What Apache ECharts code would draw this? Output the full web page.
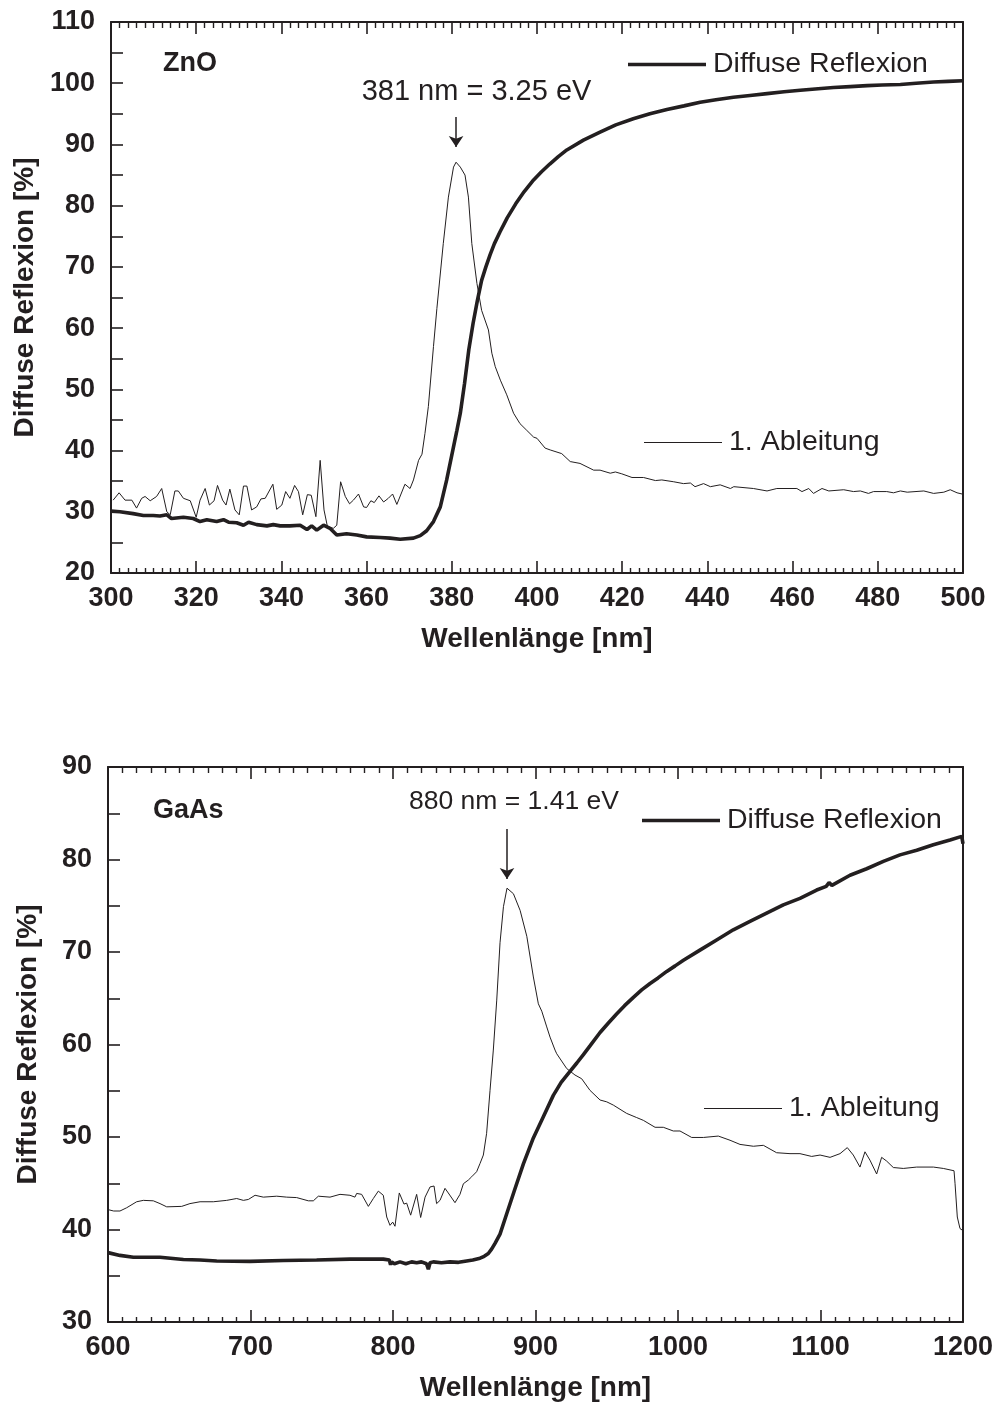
<!DOCTYPE html>
<html>
<head>
<meta charset="utf-8">
<script src="https://cdn.jsdelivr.net/npm/echarts@6/dist/echarts.min.js"></script>
<style>
  html, body { margin: 0; padding: 0; background: #ffffff; }
  #chart { width: 998px; height: 1415px; }
</style>
</head>
<body>
<div id="chart"></div>
<script>
// ---- ZnO: diffuse reflexion and its first derivative, wavelength [nm] vs. value ----
const znoReflexion = [
  [300,30.1],[302.1,30.0],[305.2,29.7],[307.6,29.4],[309.9,29.4],[311.5,29.3],[313.1,29.5],[314.2,28.9],
  [317.0,29.1],[319.3,28.9],[320.9,28.4],[322.5,28.7],[324.8,28.4],[326.4,28.7],[327.6,28.3],[329.5,28.2],
  [331.1,27.8],[332.3,28.3],[334.2,27.9],[336.6,27.7],[338.1,27.9],[339.7,27.7],[342.0,27.7],[344.4,27.8],
  [346.0,27.1],[347.1,27.7],[348.3,27.0],[349.9,27.8],[351.4,27.3],[353.0,26.2],[355.3,26.4],[357.7,26.2],
  [360.0,25.9],[363.2,25.8],[365.5,25.7],[367.9,25.5],[371.0,25.7],[372.6,26.1],[374.1,26.9],[375.7,28.4],
  [377.3,30.8],[378.8,35.2],[380.4,40.6],[381.2,43.3],[382.0,46.1],[383.0,51.0],[384.0,56.5],[385.0,60.8],
  [386.0,64.5],[387.0,67.8],[388.0,70.0],[389.0,72.0],[390.0,73.8],[391.3,75.7],[393.0,78.0],[395.0,80.3],
  [397.0,82.3],[399.2,84.2],[401.0,85.5],[403.0,86.8],[405.0,88.0],[407.0,89.1],[410.9,90.7],[414.8,92.0],
  [418.5,93.2],[422.6,94.2],[426.5,95.0],[430.5,95.7],[434.5,96.3],[438.3,96.9],[442.0,97.3],[446.1,97.7],
  [450.0,98.0],[454.0,98.3],[458.0,98.6],[461.8,98.85],[466.0,99.1],[469.6,99.3],[473.5,99.45],[477.5,99.6],
  [481.0,99.7],[485.3,99.8],[489.0,100.0],[493.1,100.2],[496.5,100.3],[500.0,100.4]
];
const znoDerivative = [
  [300.5,31.9],[301.9,33.1],[303.3,31.9],[304.9,31.9],[306.0,30.6],[307.2,32.2],[308.0,32.5],[309.2,31.8],
  [310.7,32.5],[311.9,33.8],[313.1,30.0],[313.9,29.5],[315.0,33.4],[315.8,33.4],[317.0,32.2],[318.6,31.8],
  [320.0,29.1],[320.9,31.9],[322.1,33.8],[323.1,31.1],[324.2,31.8],[325.0,34.3],[326.2,31.9],[327.0,31.1],
  [327.9,33.7],[329.1,30.3],[330.1,29.5],[331.1,34.2],[331.9,34.2],[333.0,30.3],[334.2,30.8],[335.2,32.1],
  [336.2,32.2],[338.0,34.5],[338.9,30.4],[340.1,31.1],[341.0,33.3],[342.0,32.2],[343.1,34.3],[344.0,33.3],
  [345.0,29.5],[346.1,32.8],[347.0,32.7],[348.1,29.2],[349.1,38.4],[350.0,30.3],[350.8,27.6],[352.2,27.3],
  [353.0,27.8],[353.9,34.9],[355.0,32.5],[356.0,31.3],[356.9,31.9],[358.1,32.9],[359.3,30.8],[360.0,30.7],
  [361.0,31.8],[361.8,31.5],[362.9,32.6],[364.0,31.6],[365.1,32.2],[366.1,32.9],[367.1,31.2],[369.0,34.5],
  [370.2,33.8],[371.0,35.2],[372.2,38.4],[373.0,39.4],[373.7,42.8],[374.5,47.2],[375.7,57.0],[376.5,63.2],
  [378.0,73.8],[379.2,81.4],[380.4,86.3],[381.0,87.1],[382.0,86.3],[383.1,85.0],[383.9,81.4],[384.7,73.8],
  [385.9,67.3],[387.0,62.9],[388.6,59.7],[389.4,55.9],[390.2,53.7],[391.4,51.5],[392.9,49.1],[394.5,46.1],
  [396.0,44.4],[397.6,43.3],[399.2,42.2],[400.0,42.0],[401.9,40.4],[403.1,40.1],[405.8,39.5],[407.8,38.2],
  [410.1,37.9],[413.3,36.8],[414.8,36.8],[417.2,36.3],[418.4,36.5],[419.9,36.2],[422.3,35.6],[425.0,35.6],
  [427.8,35.1],[429.3,35.2],[432.1,34.9],[434.4,34.6],[436.0,34.7],[437.1,34.1],[439.1,34.6],[440.7,34.1],
  [443.0,34.4],[445.4,33.8],[446.2,34.1],[450.8,33.8],[454.0,33.4],[456.3,33.8],[461.0,33.8],[462.2,33.3],
  [463.8,33.8],[464.9,33.0],[466.9,33.8],[468.5,33.4],[472.0,33.6],[474.3,33.3],[475.9,33.4],[477.8,33.0],
  [479.0,33.3],[482.1,33.3],[483.7,33.1],[485.3,33.4],[486.9,33.2],[490.8,33.4],[493.1,33.0],[495.5,33.2],
  [497.0,33.6],[498.6,33.1],[499.8,32.9]
];

// ---- GaAs: diffuse reflexion and its first derivative ----
const gaasReflexion = [
  [600,37.5],[608.4,37.2],[617.8,37.0],[636.5,37.0],[652.9,36.75],[664.6,36.7],[676.3,36.6],[699.6,36.55],
  [723,36.65],[746.4,36.7],[769.8,36.8],[781.5,36.8],[793.2,36.8],[797.4,36.7],[798.3,36.2],[799.1,36.5],
  [801,36.3],[804.9,36.5],[809,36.3],[813,36.5],[816.6,36.4],[820,36.5],[823.5,36.3],[824.8,35.7],[826,36.4],
  [828.3,36.5],[834,36.4],[840,36.5],[846,36.45],[851.7,36.6],[856,36.7],[861.1,36.9],[864,37.1],[866.9,37.4],
  [869.3,37.9],[871.6,38.5],[875.1,39.5],[879.8,41.7],[885.6,44.4],[891.5,47.1],[898.5,49.9],[905.5,52.2],
  [912.5,54.5],[918,55.9],[924.2,57.1],[929,58.0],[933.6,58.9],[938.5,59.9],[945.3,61.3],[951,62.3],
  [956.9,63.3],[962.5,64.2],[968.7,65.1],[974.5,65.9],[980.4,66.6],[986,67.2],[992.1,67.9],[998,68.5],
  [1003.8,69.1],[1015.4,70.2],[1027.1,71.3],[1038.8,72.4],[1050.5,73.3],[1062.2,74.2],[1073.9,75.1],
  [1085.6,75.8],[1097.3,76.7],[1104,77.1],[1106,77.5],[1108,77.2],[1120.7,78.3],[1132.4,79.0],[1144.1,79.8],
  [1155.8,80.5],[1167.5,81.0],[1179.2,81.6],[1190.9,82.1],[1199.1,82.5],[1200,81.7]
];
const gaasDerivative = [
  [600,42.15],[604,42.0],[608.4,42.0],[613.1,42.35],[620.1,43.0],[624.8,43.15],[631.8,43.1],[636.5,42.8],
  [641.2,42.45],[651.7,42.5],[657.5,42.8],[664.6,43.0],[673.9,43.0],[683.3,43.15],[690.3,43.35],[695,43.15],
  [698.5,43.25],[703.2,43.7],[709,43.5],[718.4,43.6],[725.4,43.5],[732.4,43.45],[740.6,43.1],[744.1,43.1],
  [747.6,43.6],[755.8,43.5],[762.8,43.8],[769.8,43.7],[773.3,43.5],[774.5,43.9],[778,43.8],[782.7,42.5],
  [786.2,43.35],[789.7,44.15],[793.2,43.7],[795.6,41.35],[797.9,40.45],[799.8,40.8],[801.4,40.35],[804.4,43.95],
  [807.7,42.75],[809.6,42.85],[812.4,41.55],[816.6,43.8],[819.4,41.3],[822.5,43.5],[826.0,44.6],[828.8,44.7],
  [830.6,42.8],[833.0,43.15],[836.5,44.45],[838.8,43.95],[843.5,42.9],[847.0,43.8],[849.4,44.95],[852.9,45.35],
  [855.2,45.7],[858.7,46.25],[861.1,47.15],[863.4,48.05],[865.7,50.4],[868.1,55.05],[870.4,59.4],[872.8,64.8],
  [875.1,71.0],[877.5,74.9],[880.0,76.9],[884.5,76.3],[889.2,74.5],[893.9,71.7],[898.5,67.3],[902.0,64.4],
  [904.4,63.6],[907.9,61.9],[910.2,60.8],[913.7,59.4],[914.9,59.0],[921.9,57.4],[927.7,56.7],[932.4,56.3],
  [938.2,55.05],[945.3,54.0],[950,53.8],[954.6,53.45],[964,52.55],[971,52.1],[975.7,51.8],[983.9,51.05],
  [989.7,51.05],[996.7,50.65],[1001.4,50.65],[1009.6,49.95],[1017.8,49.95],[1028.3,50.1],[1036.5,49.65],
  [1043.5,49.2],[1052.9,49.0],[1059.9,49.1],[1069.2,48.3],[1078.6,48.2],[1085.6,48.2],[1093.8,47.9],
  [1099.7,48.05],[1106.7,47.8],[1113.7,48.2],[1118.8,48.85],[1123.0,48.05],[1127.7,46.75],[1131.2,48.4],
  [1134.7,47.5],[1139.4,46.0],[1142.9,47.8],[1146.4,47.4],[1151.1,46.7],[1158.1,46.6],[1167.5,46.75],
  [1179.2,46.75],[1186.2,46.6],[1193.7,46.35],[1194.4,45.0],[1196.0,41.35],[1197.9,40.1],[1199.8,39.9]
];

// Band-gap markers: peak wavelength, arrow from/to value, text anchor
const znoPeak = { nm: 381, text: '381 nm = 3.25 eV', arrowFrom: 94.5, arrowTo: 89.6, textAt: [385.8, 98.6], size: 29 };
const gaasPeak = { nm: 880, text: '880 nm = 1.41 eV', arrowFrom: 83.3, arrowTo: 77.9, textAt: [884.9, 86.2], size: 26.5 };

const seriesNames = ['Diffuse Reflexion', '1. Ableitung'];
const sampleNames = ['ZnO', 'GaAs'];
const xTitle = 'Wellenlänge [nm]';
const yTitle = 'Diffuse Reflexion [%]';

const INK = '#231f20';
const FONT = '"Liberation Sans", Arial, Helvetica, sans-serif';
const THICK = 3.6;
const THIN = 1;

function bottomX(gridIndex, min, max, interval) {
  return {
    type: 'value', gridIndex, position: 'bottom', min, max, interval,
    name: xTitle, nameLocation: 'middle', nameGap: 52,
    nameTextStyle: { fontFamily: FONT, fontSize: 28, fontWeight: 'bold', color: INK },
    axisLine: { show: true, onZero: false, lineStyle: { color: INK, width: 2 } },
    axisTick: { show: true, inside: true, length: 12, lineStyle: { color: INK, width: 1.6 } },
    minorTick: { show: true, splitNumber: 10, length: 5, lineStyle: { color: INK, width: 1.4 } },
    axisLabel: { fontFamily: FONT, fontSize: 27, fontWeight: 'bold', color: INK, margin: 12,
      formatter: v => String(v) },
    splitLine: { show: false }
  };
}
function topX(gridIndex, min, max, interval) {
  return {
    type: 'value', gridIndex, position: 'top', min, max, interval,
    axisLine: { show: true, onZero: false, lineStyle: { color: INK, width: 2 } },
    axisTick: { show: true, inside: true, length: 12, lineStyle: { color: INK, width: 1.6 } },
    minorTick: { show: true, splitNumber: 10, length: 6, lineStyle: { color: INK, width: 1.4 } },
    axisLabel: { show: false },
    splitLine: { show: false }
  };
}
function leftY(gridIndex, min, max, gap) {
  return {
    type: 'value', gridIndex, position: 'left', min, max, interval: 10,
    name: yTitle, nameLocation: 'middle', nameGap: gap, nameRotate: 90,
    nameTextStyle: { fontFamily: FONT, fontSize: 28, fontWeight: 'bold', color: INK },
    axisLine: { show: true, onZero: false, lineStyle: { color: INK, width: 2 } },
    axisTick: { show: true, inside: true, length: 12, lineStyle: { color: INK, width: 1.6 } },
    minorTick: { show: true, splitNumber: 2, length: 12, lineStyle: { color: INK, width: 1.6 } },
    axisLabel: { fontFamily: FONT, fontSize: 27, fontWeight: 'bold', color: INK, margin: 16 },
    splitLine: { show: false }
  };
}
function rightY(gridIndex, min, max) {
  return {
    type: 'value', gridIndex, position: 'right', min, max,
    axisLine: { show: true, onZero: false, lineStyle: { color: INK, width: 2 } },
    axisTick: { show: false }, axisLabel: { show: false }, splitLine: { show: false }
  };
}

function peakMarks(peak) {
  return {
    markLine: {
      silent: true, animation: false,
      symbol: ['none', 'arrow'], symbolSize: 11,
      label: { show: false },
      lineStyle: { color: INK, width: 1.5, type: 'solid' },
      data: [[{ coord: [peak.nm, peak.arrowFrom] }, { coord: [peak.nm, peak.arrowTo] }]]
    },
    markPoint: {
      silent: true, animation: false, symbolSize: 0,
      label: {
        show: true, position: 'inside', formatter: peak.text,
        fontFamily: FONT, fontSize: peak.size, color: INK
      },
      data: [{ coord: peak.textAt }]
    }
  };
}

function lineSeries(name, data, xi, yi, width, extra) {
  return Object.assign({
    name, type: 'line', data, xAxisIndex: xi, yAxisIndex: yi,
    symbol: 'none', showSymbol: false, smooth: false,
    lineStyle: { color: INK, width }, itemStyle: { color: INK },
    animation: false
  }, extra || {});
}

// Each legend entry is a plain stroke (drawn as a thin rect) followed by its text
function legendAt(name, left, top, strokeWidth) {
  return {
    data: [{ name, icon: 'rect' }], left, top, padding: 0, orient: 'horizontal',
    itemWidth: 78, itemHeight: strokeWidth, selectedMode: false,
    itemStyle: { color: INK, borderWidth: 0 },
    textStyle: { fontFamily: FONT, fontSize: 28.5, color: INK, padding: [0, 0, 0, 2] }
  };
}

const option = {
  backgroundColor: '#ffffff',
  animation: false,
  title: [
    { text: sampleNames[0], left: 163, top: 50, padding: 0,
      textStyle: { fontFamily: FONT, fontSize: 27, fontWeight: 'bold', color: INK } },
    { text: sampleNames[1], left: 153, top: 797, padding: 0,
      textStyle: { fontFamily: FONT, fontSize: 27, fontWeight: 'bold', color: INK } }
  ],
  legend: [
    legendAt(seriesNames[0], 628, 50, THICK),
    legendAt(seriesNames[1], 644, 428, THIN),
    legendAt(seriesNames[0], 642, 806, THICK),
    legendAt(seriesNames[1], 704, 1094, THIN)
  ],
  grid: [
    { left: 111, top: 22, width: 852, height: 551, containLabel: false },
    { left: 108, top: 767, width: 855, height: 555, containLabel: false }
  ],
  xAxis: [
    bottomX(0, 300, 500, 20), topX(0, 300, 500, 20),
    bottomX(1, 600, 1200, 100), topX(1, 600, 1200, 100)
  ],
  yAxis: [
    leftY(0, 20, 110, 67), rightY(0, 20, 110),
    leftY(1, 30, 90, 66), rightY(1, 30, 90)
  ],
  series: [
    lineSeries(seriesNames[0], znoReflexion, 0, 0, THICK),
    lineSeries(seriesNames[1], znoDerivative, 0, 0, THIN, peakMarks(znoPeak)),
    lineSeries(seriesNames[0], gaasReflexion, 2, 2, THICK),
    lineSeries(seriesNames[1], gaasDerivative, 2, 2, THIN, peakMarks(gaasPeak))
  ]
};

const chart = echarts.init(document.getElementById('chart'), null, { renderer: 'canvas' });
chart.setOption(option);
</script>
</body>
</html>
